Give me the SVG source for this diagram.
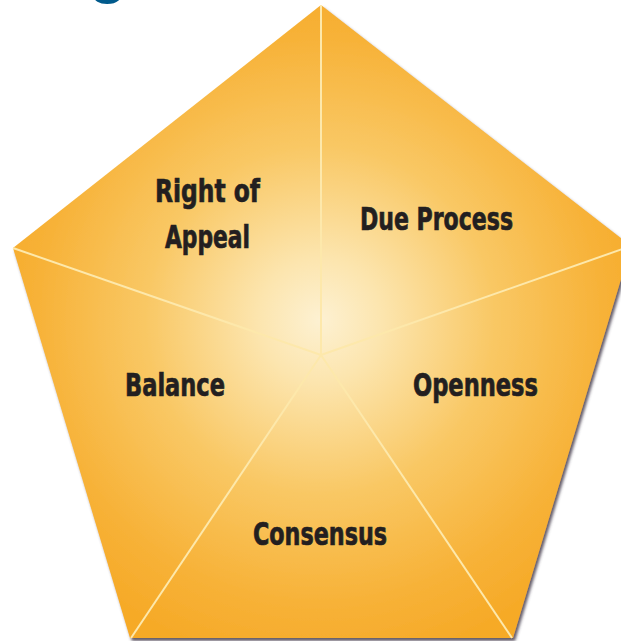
<svg xmlns="http://www.w3.org/2000/svg" width="621" height="641" viewBox="0 0 621 641">
  <defs>
    <radialGradient id="glow" gradientUnits="userSpaceOnUse" cx="320" cy="320" r="345">
      <stop offset="0" stop-color="#fdf1d2"/>
      <stop offset="0.18" stop-color="#fce5ae"/>
      <stop offset="0.5" stop-color="#f9c865"/>
      <stop offset="0.82" stop-color="#f7b238"/>
      <stop offset="1" stop-color="#f6aa28"/>
    </radialGradient>
    <filter id="shadow" x="-5%" y="-5%" width="115%" height="115%">
      <feDropShadow dx="2" dy="3" stdDeviation="1.5" flood-color="#4a4050" flood-opacity="0.85"/>
    </filter>
  </defs>
  <style>
    .label { font-family: "Liberation Sans Narrow", "DejaVu Sans Condensed", "Liberation Sans", sans-serif; font-weight: bold; font-size: 32px; fill: #231f20; stroke: #231f20; stroke-width: 0.7; }
    .spoke { stroke: #fde8ab; stroke-width: 2; fill: none; }
  </style>
  <rect width="621" height="641" fill="#ffffff"/>
  <text x="89" y="-9" font-family="Liberation Sans, sans-serif" font-weight="bold" font-size="62" fill="#005a8c">g</text>
  <g id="pentagon">
    <polygon points="321,5 631,246 513,638 130,638 13,248" fill="url(#glow)" filter="url(#shadow)"/>
  </g>
  <g id="connectors">
    <line class="spoke" x1="321" y1="355" x2="321" y2="5"/>
    <line class="spoke" x1="321" y1="355" x2="13" y2="248"/>
    <line class="spoke" x1="321" y1="355" x2="631" y2="246"/>
    <line class="spoke" x1="321" y1="355" x2="131" y2="638"/>
    <line class="spoke" x1="321" y1="355" x2="512" y2="638"/>
  </g>
  <g id="right-of-appeal">
    <text class="label" x="155" y="202" textLength="105" lengthAdjust="spacingAndGlyphs">Right of</text>
    <text class="label" x="165" y="248" textLength="85" lengthAdjust="spacingAndGlyphs">Appeal</text>
  </g>
  <g id="due-process">
    <text class="label" x="360" y="230" textLength="153" lengthAdjust="spacingAndGlyphs">Due Process</text>
  </g>
  <g id="balance">
    <text class="label" x="125" y="396" textLength="100" lengthAdjust="spacingAndGlyphs">Balance</text>
  </g>
  <g id="openness">
    <text class="label" x="413" y="396" textLength="125" lengthAdjust="spacingAndGlyphs">Openness</text>
  </g>
  <g id="consensus">
    <text class="label" x="253" y="545" textLength="134" lengthAdjust="spacingAndGlyphs">Consensus</text>
  </g>
</svg>
